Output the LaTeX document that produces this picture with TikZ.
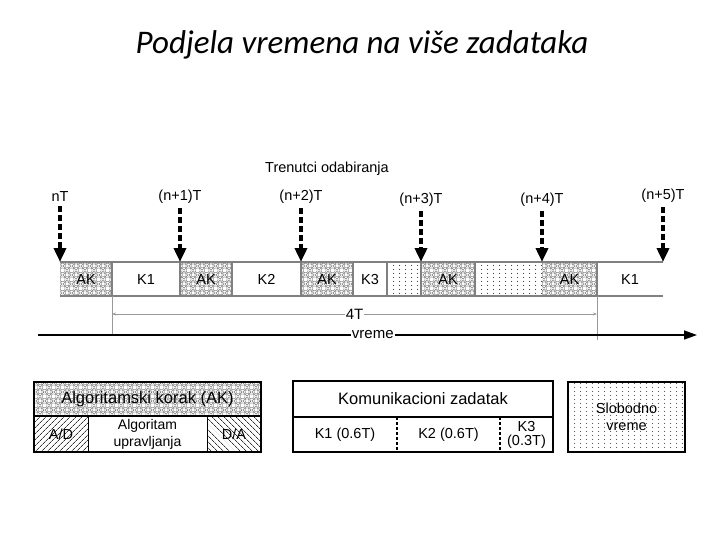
\documentclass[tikz,border=0pt]{standalone}
\usepackage{fontspec}
\setmainfont{Liberation Sans}
\newfontfamily\titlefont{Carlito}
\usetikzlibrary{patterns.meta,arrows.meta}
\tikzdeclarepattern{
  name=akpat,
  type=uncolored,
  bounding box={(0pt,0pt) and (9pt,9pt)},
  tile size={(9pt,9pt)},
  code={
    \draw[line width=0.4pt] (0pt,4.5pt) -- (4.5pt,9pt) -- (9pt,4.5pt) -- (4.5pt,0pt) -- cycle;
    \draw[line width=0.35pt] (4.5pt,4.5pt) circle (2.3pt);
    \draw[line width=0.35pt] (0pt,0pt) circle (2.3pt);
    \draw[line width=0.35pt] (9pt,0pt) circle (2.3pt);
    \draw[line width=0.35pt] (0pt,9pt) circle (2.3pt);
    \draw[line width=0.35pt] (9pt,9pt) circle (2.3pt);
  }
}
\tikzdeclarepattern{
  name=freedots,
  type=uncolored,
  bounding box={(0pt,0pt) and (5.5pt,3.5pt)},
  tile size={(5.5pt,3.5pt)},
  code={
    \fill (2.75pt,1.75pt) circle (0.6pt);
  }
}
\begin{document}
\begin{tikzpicture}[x=1pt,y=-1pt,
  lbl/.style={font=\fontsize{14.5}{16}\selectfont, inner sep=1pt},
  cell/.style={anchor=north west, minimum height=34pt, inner sep=0pt, outer sep=0pt, text height=10.5pt, text depth=0pt, font=\fontsize{14.5}{16}\selectfont},
  akcell/.style={cell, pattern=akpat, pattern color=gray!75!black},
  freecell/.style={cell, pattern=freedots, pattern color=black!80},
  sep/.style={draw=gray, line width=1.2pt},
  samp/.style={line width=3.5pt, dash pattern=on 6pt off 3pt, -{Triangle[length=14pt,width=12pt]}, shorten <=3pt},
  box/.style={anchor=north west, inner sep=0pt, outer sep=0pt, align=center},
  frame/.style={line width=2.2pt, line join=miter}
]
\useasboundingbox (0,0) rectangle (720,540);

% title
\node[font=\titlefont\itshape\fontsize{33}{38}\selectfont] (title) at (362,45) {Podjela vremena na više zadataka};

% sampling labels
\node[lbl] (tr) at (327,169) {Trenutci odabiranja};
\node[lbl] (t0) at (60,197) {nT};
\node[lbl] (t1) at (180,197) {(n+1)T};
\node[lbl] (t2) at (301,197) {(n+2)T};
\node[lbl] (t3) at (421,200) {(n+3)T};
\node[lbl] (t4) at (542,200) {(n+4)T};
\node[lbl] (t5) at (663,196) {(n+5)T};

% time strip
\node[akcell, minimum width=52pt] (ak1) at (60,262) {AK};
\node[cell, minimum width=68pt] (k1) at (112,262) {K1};
\node[akcell, minimum width=52pt] (ak2) at (180,262) {AK};
\node[cell, minimum width=69pt] (k2) at (232,262) {K2};
\node[akcell, minimum width=52pt] (ak3) at (301,262) {AK};
\node[cell, minimum width=34pt] (k3) at (353,262) {K3};
\node[freecell, minimum width=34pt] (fr1) at (387,262) {};
\node[akcell, minimum width=54pt] (ak4) at (421,262) {AK};
\node[freecell, minimum width=67pt] (fr2) at (475,262) {};
\node[akcell, minimum width=55pt] (ak5) at (542,262) {AK};
\node[cell, minimum width=66pt] (k1b) at (597,262) {K1};

\draw[sep] (ak1.north west) -- (k1b.north east);
\draw[sep] (ak1.south west) -- (k1b.south east);
\foreach \n in {k1,ak2,k2,ak3,k3,fr1,ak4,fr2,k1b}
  \draw[sep] (\n.north west) -- (\n.south west);

% sampling arrows
\draw[samp] (t0.south) -- (ak1.north west);
\draw[samp] (t1.south) -- (ak2.north west);
\draw[samp] (t2.south) -- (ak3.north west);
\draw[samp] (t3.south) -- (ak4.north west);
\draw[samp] (t4.south) -- (ak5.north west);
\draw[samp] (t5.south) -- (k1b.north east);

% 4T dimension
\coordinate (d1) at (112,334);
\coordinate (d2) at (597,340);
\coordinate (e1) at (112,314);
\coordinate (e2) at (597,314);
\draw[gray!80, line width=0.7pt] (k1.south west) -- (d1);
\draw[gray!80, line width=0.7pt] (ak5.south east) -- (d2);
\draw[gray!80, line width=0.7pt, {Stealth[length=4pt,width=3pt]}-{Stealth[length=4pt,width=3pt]}] (e1) -- (e2)
  node[pos=0.5, fill=white, inner sep=1pt, font=\fontsize{15}{16}\selectfont, text=black] (fourT) {4T};

% time axis
\coordinate (ax0) at (38,335);
\coordinate (ax1) at (697,335);
\draw[line width=1.5pt, -{Triangle[length=13pt,width=9pt]}] (ax0) -- (ax1)
  node[pos=0.508, fill=white, inner sep=1pt, font=\fontsize{15}{16}\selectfont] (vr) {vreme};

% legend box 1
\node[box, minimum width=227pt, minimum height=34pt, pattern=akpat, pattern color=gray!75!black, font=\fontsize{16.5}{18}\selectfont] (akbig) at (34,382) {Algoritamski korak (AK)};
\node[box, minimum width=54pt, minimum height=36pt, pattern={Lines[angle=45,distance=4pt,line width=0.8pt]}, pattern color=black!80, font=\fontsize{14.5}{16}\selectfont] (ad) at (34,416) {A/D};
\node[box, minimum width=119pt, minimum height=36pt, font=\fontsize{14}{17}\selectfont] (alg) at (88,416) {Algoritam\\upravljanja};
\node[box, minimum width=54pt, minimum height=36pt, pattern={Lines[angle=-45,distance=4pt,line width=0.8pt]}, pattern color=black!80, font=\fontsize{14.5}{16}\selectfont] (da) at (207,416) {D/A};
\draw[line width=1.6pt] (ad.north west) -- (da.north east);
\draw[line width=0.8pt] (alg.north west) -- (alg.south west);
\draw[line width=0.8pt] (alg.north east) -- (alg.south east);
\draw[frame] (akbig.north west) rectangle (da.south east);

% legend box 2
\node[box, minimum width=260pt, minimum height=36pt, font=\fontsize{16.5}{18}\selectfont] (kom) at (293,381) {Komunikacioni zadatak};
\node[box, minimum width=104pt, minimum height=35pt, font=\fontsize{14.5}{16}\selectfont] (kk1) at (293,417) {K1 (0.6T)};
\node[box, minimum width=103pt, minimum height=35pt, font=\fontsize{14.5}{16}\selectfont] (kk2) at (397,417) {K2 (0.6T)};
\node[box, minimum width=53pt, minimum height=35pt, font=\fontsize{14.5}{14}\selectfont] (kk3) at (500,417) {K3\\(0.3T)};
\draw[line width=2pt] (kk1.north west) -- (kk3.north east);
\draw[line width=1.2pt, dash pattern=on 3pt off 2pt] (kk2.north west) -- (kk2.south west);
\draw[line width=1.2pt, dash pattern=on 3pt off 2pt] (kk3.north west) -- (kk3.south west);
\draw[frame] (kom.north west) rectangle (kk3.south east);

% legend box 3
\node[box, minimum width=117pt, minimum height=70pt, pattern=freedots, pattern color=black!70, font=\fontsize{14.5}{17}\selectfont] (slob) at (568,382) {Slobodno\\vreme};
\draw[frame] (slob.north west) rectangle (slob.south east);
\end{tikzpicture}
\end{document}
